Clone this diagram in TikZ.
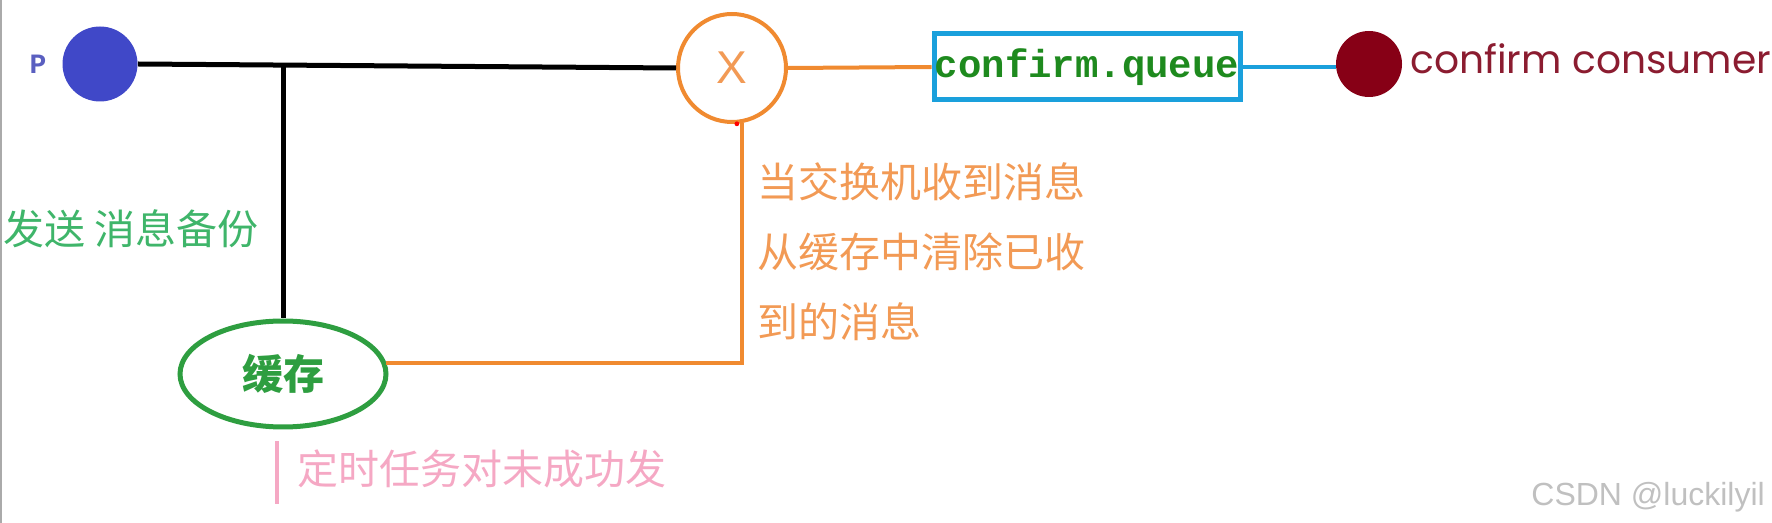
\documentclass[tikz,border=0pt]{standalone}
\usepackage{xcolor}
\usepackage{fontspec}
\setmainfont{Liberation Sans}
\newfontfamily\cjk{Noto Sans CJK SC}
\newfontfamily\mono{Liberation Mono}
\newfontfamily\geo{Poppins}
\usepackage{tikz}
\usetikzlibrary{positioning,shapes.geometric}
\definecolor{prod}{HTML}{4048C8}
\definecolor{ptext}{HTML}{5A5FC0}
\definecolor{orng}{HTML}{F08A30}
\definecolor{otext}{HTML}{F29A55}
\definecolor{qblue}{HTML}{1AA0DC}
\definecolor{qgreen}{HTML}{1E8A1E}
\definecolor{cred}{HTML}{870016}
\definecolor{ctext}{HTML}{8B1C30}
\definecolor{cgreen}{HTML}{2E9E40}
\definecolor{lgreen}{HTML}{3FB56A}
\definecolor{pinkl}{HTML}{F5A8C4}
\definecolor{wm}{HTML}{C0C0C0}
\definecolor{edge}{HTML}{AAAAAA}

\begin{document}
\begin{tikzpicture}[x=0.5pt,y=-0.5pt,
  wire/.style={line width=2.5pt,black},
  oline/.style={line width=2pt,orng},
  bline/.style={line width=2pt,qblue},
  pline/.style={line width=2pt,pinkl},
  dot/.style={circle,inner sep=0pt,minimum size=#1},
  cjktext/.style={anchor=base west,inner sep=0pt,font=\cjk\fontsize{20.5}{20.5}\selectfont}]
  \useasboundingbox (0,0) rectangle (1772,523);
  \draw[line width=1pt,edge] (1,0) -- (1,523);

  \node[font=\mono\bfseries\fontsize{14}{14}\selectfont,text=ptext] (plabel) at (38,64) {P};
  \node[dot=37.5pt,fill=prod] (prod) at (100,64) {};
  \node[dot=54pt,draw=orng,line width=2pt,fill=white,text=otext,font=\fontsize{23}{23}\selectfont] (xchg) at (732,68) {X};
  \node[draw=qblue,line width=2.5pt,minimum width=153pt,minimum height=33pt,inner sep=0pt,text=qgreen,font=\mono\bfseries\fontsize{19.5}{19.5}\selectfont] (queue) at (1087,67) {confirm.queue};
  \node[dot=33pt,fill=cred] (cons) at (1369,64) {};
  \node[anchor=base west,inner sep=0pt,text=ctext,font=\geo\fontsize{19.6}{19.6}\selectfont] (clabel) at (1410,74) {confirm consumer};
  \node[ellipse,draw=cgreen,line width=2.5pt,minimum width=103pt,minimum height=53pt,inner sep=0pt,text=cgreen,font=\cjk\bfseries\fontsize{20.5}{20.5}\selectfont] (cache) at (283,374) {缓存};

  \coordinate (split) at (cache.north |- prod.east);
  \coordinate (ptop) at ([shift={(-6,12)}]cache.south);
  \coordinate (pbot) at ([shift={(-6,74)}]cache.south);

  \draw[wire] (prod.east) -- (xchg.west);
  \draw[wire] (split) -- (cache.north);
  \draw[oline] (xchg.east) -- (queue.west);
  \draw[bline] (queue.east) -- (cons.west |- queue.east);
  \draw[oline] (cache.6) -| (xchg.-80);
  \fill[red] (xchg.-85) circle (1.2pt);
  \draw[pline] (ptop) -- (pbot);

  \node[cjktext,text=lgreen] (send) at (3,245) {发送 消息备份};
  \node[anchor=north west,inner sep=0pt,align=left,text=otext,font=\cjk\fontsize{20.5}{35}\selectfont] (note) at (757,162) {当交换机收到消息\\从缓存中清除已收\\到的消息};
  \node[cjktext,text=pinkl] (retry) at (297,484) {定时任务对未成功发};
  \node[anchor=base west,inner sep=0pt,text=wm,font=\fontsize{16}{16}\selectfont] (mark) at (1531,505) {CSDN @luckilyil};
\end{tikzpicture}
\end{document}
